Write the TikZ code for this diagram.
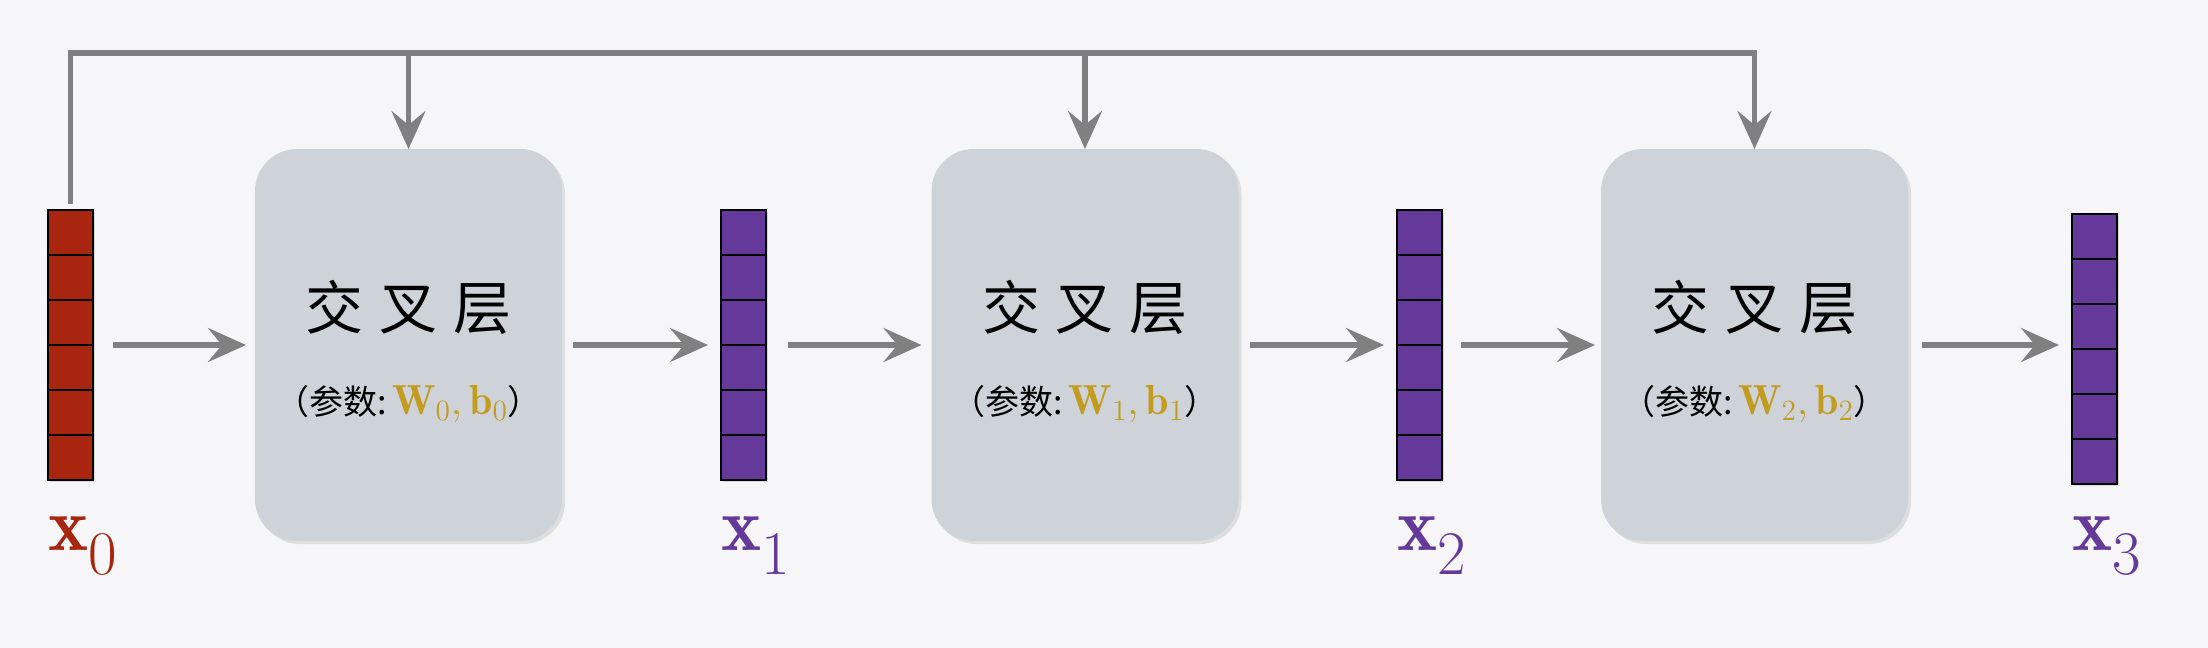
\documentclass[tikz,border=0pt]{standalone}
\usepackage{fontspec}
\newfontfamily\cjk{Noto Sans CJK SC}
\usetikzlibrary{arrows.meta,shadows,calc}
\definecolor{bg}{HTML}{F6F6F8}
\definecolor{vred}{HTML}{A8260F}
\definecolor{vpurple}{HTML}{65399A}
\definecolor{gold}{HTML}{C39B1F}
\definecolor{arrgray}{HTML}{808080}
\definecolor{boxc}{HTML}{CED3DA}
\tikzset{
  vecbox/.style={draw=black, line width=1.2pt, minimum width=22.5pt, minimum height=135pt, inner sep=0pt, outer sep=0pt,
    drop shadow={opacity=0.25, shadow xshift=1.2pt, shadow yshift=-1.2pt}},
  cellline/.style={draw=black, line width=1.2pt},
  layer/.style={fill=boxc, rounded corners=21pt, minimum width=153.5pt, minimum height=196pt, inner sep=0pt, outer sep=0pt,
    drop shadow={opacity=0.2, shadow xshift=1.5pt, shadow yshift=-1.5pt}},
  conn/.style={draw=arrgray, line width=2.6pt},
  arr/.style={conn, -{Stealth[length=19pt, width=17pt, inset=7pt]}},
  title/.style={font=\cjk\fontsize{29}{29}\selectfont, inner sep=0pt},
  param/.style={font=\fontsize{21}{21}\selectfont, inner sep=0pt},
  lbl/.style={font=\fontsize{38}{38}\selectfont, inner sep=0pt, anchor=west},
}
\newcommand{\jcc}{\hspace{8pt}}
\newcommand{\prm}[1]{{\cjk\fontsize{17}{17}\selectfont （参数:\,}\textcolor{gold}{$\mathbf{W}_{\mathrm{#1}},\mathbf{b}_{\mathrm{#1}}$}{\cjk\fontsize{17}{17}\selectfont ）}}
\newcommand{\xl}[1]{$\mathbf{x}_{\mbox{\fontsize{31}{31}\selectfont #1}}$}
\begin{document}
\begin{tikzpicture}[x=0.5pt, y=-0.5pt]
\fill[bg] (0,0) rectangle (2208,648);
\useasboundingbox (0,0) rectangle (2208,648);

% vectors
\node[vecbox, fill=vred] (v0) at (70.5,345) {};
\node[vecbox, fill=vpurple] (v1) at (743.5,345) {};
\node[vecbox, fill=vpurple] (v2) at (1419.5,345) {};
\node[vecbox, fill=vpurple] (v3) at (2094.5,349) {};
\foreach \v in {v0,v1,v2,v3}{
  \foreach \i in {1,...,5}{
    \draw[cellline] ($(\v.north west)!\i/6!(\v.south west)$) -- ($(\v.north east)!\i/6!(\v.south east)$);
  }
}

% layers
\node[layer] (b1) at (408.5,345) {};
\node[layer] (b2) at (1085,345) {};
\node[layer] (b3) at (1754.5,345) {};
\foreach \b/\k in {b1/0,b2/1,b3/2}{
  \node[title] (t\b) at ([yshift=19pt]\b.center) {交\jcc 叉\jcc 层};
  \node[param] (p\b) at ([yshift=-29.5pt]\b.center) {\prm{\k}};
}

% labels
\node[lbl, text=vred] (l0) at (v0.west |- 0,546) {\xl{0}};
\node[lbl, text=vpurple] (l1) at (v1.west |- 0,546) {\xl{1}};
\node[lbl, text=vpurple] (l2) at (v2.west |- 0,546) {\xl{2}};
\node[lbl, text=vpurple] (l3) at (v3.west |- 0,546) {\xl{3}};

% horizontal arrows
\draw[arr, shorten <=10pt, shorten >=4.5pt] (v0) -- (b1);
\draw[arr, shorten <=5.5pt, shorten >=6.5pt] (b1) -- (v1);
\draw[arr, shorten <=11pt, shorten >=5pt] (v1) -- (b2);
\draw[arr, shorten <=5.5pt, shorten >=6.5pt] (b2) -- (v2);
\draw[arr, shorten <=9.5pt, shorten >=3pt] (v2) -- (b3);
\draw[arr, shorten <=7pt, shorten >=6.5pt] (b3) -- (v3.west |- b3);

% skip connection from x0
\coordinate (top) at (0,53);
\coordinate (s0) at ([yshift=3pt]v0.north);
\draw[arr, line join=miter] (s0) -- (s0 |- top) -- (b3.north |- top) -- (b3.north);
\draw[arr] (b1.north |- top) -- (b1.north);
\draw[arr] (b2.north |- top) -- (b2.north);
\end{tikzpicture}
\end{document}
